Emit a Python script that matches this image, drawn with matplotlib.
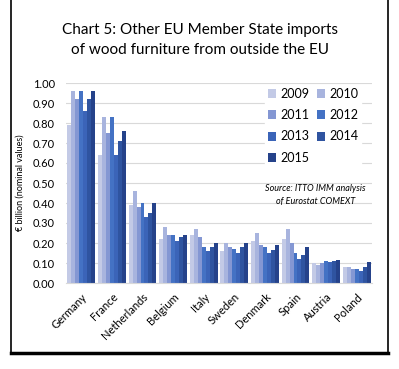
import numpy as np
import matplotlib.pyplot as plt
from matplotlib.patches import Rectangle

countries = ["Germany", "France", "Netherlands", "Belgium", "Italy",
             "Sweden", "Denmark", "Spain", "Austria", "Poland"]
years = ["2009", "2010", "2011", "2012", "2013", "2014", "2015"]

# € billion (one list per year, columns = countries)
v2009 = [0.79, 0.64, 0.39, 0.22, 0.24, 0.16, 0.21, 0.22, 0.10, 0.08]
v2010 = [0.96, 0.83, 0.46, 0.28, 0.27, 0.20, 0.25, 0.27, 0.09, 0.08]
v2011 = [0.92, 0.75, 0.38, 0.24, 0.23, 0.18, 0.19, 0.20, 0.10, 0.07]
v2012 = [0.96, 0.83, 0.40, 0.24, 0.18, 0.17, 0.18, 0.15, 0.11, 0.07]
v2013 = [0.86, 0.64, 0.33, 0.21, 0.16, 0.15, 0.15, 0.12, 0.105, 0.06]
v2014 = [0.92, 0.71, 0.35, 0.23, 0.18, 0.18, 0.165, 0.14, 0.11, 0.08]
v2015 = [0.96, 0.76, 0.40, 0.24, 0.20, 0.20, 0.19, 0.18, 0.115, 0.105]
series = [v2009, v2010, v2011, v2012, v2013, v2014, v2015]

colors = ["#c3cae6", "#a8b4de", "#8497d3", "#4472c4",
          "#3b64b8", "#2f54a0", "#25428a"]

plt.rcParams['font.family'] = ['Lato', 'DejaVu Sans']

fig = plt.figure(figsize=(3.99, 3.69), dpi=100)
W, H = 399, 369
ax = fig.add_axes([66 / W, 1 - 283 / H, (372 - 66) / W, 200 / H])

x = np.arange(len(countries))
bw = 0.13
bars = []
for i, (vals, c) in enumerate(zip(series, colors)):
    b = ax.bar(x + (i - 3) * bw, vals, width=bw, color=c, label=years[i],
               zorder=2, linewidth=0)
    bars.append(b)

ax.set_xlim(-0.5, len(countries) - 0.5)
ax.set_ylim(0, 1.0)
ax.set_yticks(np.arange(0, 1.01, 0.1))
ax.set_yticklabels([f"{t:.2f}" for t in np.arange(0, 1.01, 0.1)], fontsize=8)
ax.tick_params(axis='y', length=0, pad=8)
ax.set_xticks(x)
ax.set_xticklabels(countries, rotation=45, ha='right', rotation_mode='anchor',
                   fontsize=8)
ax.tick_params(axis='x', length=0, pad=6)
ax.grid(axis='y', color='#d9d9d9', linewidth=0.8, zorder=0)
for s in ['top', 'right', 'left']:
    ax.spines[s].set_visible(False)
ax.spines['bottom'].set_color('#d9d9d9')
ax.set_ylabel("€ billion (nominal values)", fontsize=6.5, labelpad=6)

# legend filled row by row: 2009 2010 / 2011 2012 / 2013 2014 / 2015
order = [0, 2, 4, 6, 1, 3, 5]
leg = ax.legend([bars[k] for k in order], [years[k] for k in order],
                ncol=2, loc='upper left', bbox_to_anchor=(0.63, 1.02),
                frameon=True, fontsize=9, handlelength=0.7, handleheight=0.7,
                handletextpad=0.3, columnspacing=0.6, labelspacing=0.75,
                borderpad=0.2)
leg.get_frame().set_edgecolor('white')
leg.get_frame().set_facecolor('white')
leg.get_frame().set_alpha(1)

ax.text(0.815, 0.44, "Source: ITTO IMM analysis\nof Eurostat COMEXT",
        transform=ax.transAxes, ha='center', va='center', fontsize=6.5,
        style='italic', linespacing=1.5)

fig.text(200 / W, 1 - 40 / H,
         "Chart 5: Other EU Member State imports\nof wood furniture from outside the EU",
         ha='center', va='center', fontsize=11, linespacing=1.5)

# outer frame, open at the top edge of the image
fig.add_artist(Rectangle((11 / W, 1 - 353 / H), (388 - 11) / W, 360 / H,
                         transform=fig.transFigure, fill=False,
                         edgecolor='black', linewidth=1.2))
fig.add_artist(plt.Line2D([11 / W, 388 / W], [1 - 353 / H, 1 - 353 / H],
                          transform=fig.transFigure, color='black',
                          linewidth=2.5))

fig.savefig("out.png", dpi=100)
